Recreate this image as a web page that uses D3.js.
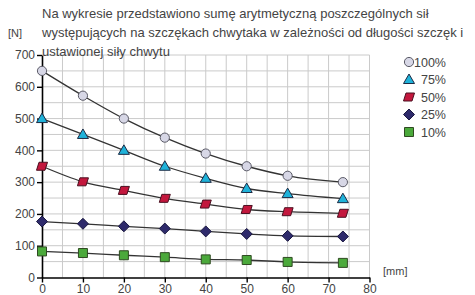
<!DOCTYPE html>
<html>
<head>
<meta charset="utf-8">
<script src="https://cdn.jsdelivr.net/npm/d3@7"></script>
<style>
  body { margin: 0; background: #fff; }
  text { font-family: "Liberation Sans", Arial, sans-serif; fill: #444; }
</style>
</head>
<body>
<script>
var width = 475, height = 295;

// data
var lengths = [0, 10, 20, 30, 40, 50, 60, 73.5];
var force100 = [650, 572, 500, 440, 390, 350, 320, 300];
var force75  = [500, 450, 400, 350, 312, 280, 264, 248];
var force50  = [350, 301, 274, 249, 231, 214, 207, 202];
var force25  = [176, 169, 161, 154, 145, 137, 131, 129];
var force10  = [82, 77, 70, 64, 57, 55, 49, 46];
var seriesNames = ["100%", "75%", "50%", "25%", "10%"];
var xTicks = [0, 10, 20, 30, 40, 50, 60, 70, 80];
var yTicks = [0, 100, 200, 300, 400, 500, 600, 700];
var titleLines = [
  "Na wykresie przedstawiono sumę arytmetyczną poszczególnych sił",
  "występujących na szczękach chwytaka w zależności od długości szczęk i",
  "ustawionej siły chwytu"
];

var allSeries = [force100, force75, force50, force25, force10];
var markerFill   = ["#d7d7e6", "#1fb2d9", "#c3173d", "#2e2a6b", "#4ba93b"];
var markerStroke = ["#5a5a66", "#1c2a44", "#4a1020", "#1a1840", "#2f4a22"];

var x0 = 42, x1 = 369.5, yTop = 55, yBot = 277.5;

var x = d3.scaleLinear().domain([0, 80]).range([x0, x1]);
var y = d3.scaleLinear().domain([0, 700]).range([yBot, yTop]);

var svg = d3.select("body").append("svg")
    .attr("width", width)
    .attr("height", height);

// grid
var grid = svg.append("g");
grid.selectAll("line.v")
    .data(d3.range(5, 81, 5))
    .enter().append("line")
    .attr("x1", d => x(d)).attr("x2", d => x(d))
    .attr("y1", y(700)).attr("y2", y(0))
    .attr("stroke", "#cacaca").attr("stroke-width", 1);
grid.selectAll("line.h")
    .data(d3.range(50, 701, 50))
    .enter().append("line")
    .attr("x1", x(0)).attr("x2", x(80))
    .attr("y1", d => y(d)).attr("y2", d => y(d))
    .attr("stroke", "#cacaca").attr("stroke-width", 1);

// title
svg.append("text")
    .attr("x", 42).attr("y", 18)
    .attr("font-size", 13)
    .selectAll("tspan")
    .data(titleLines)
    .enter().append("tspan")
    .attr("x", 42)
    .attr("y", (d, i) => 18 + i * 19)
    .text(d => d);

// axes
var yAxis = svg.append("g")
    .attr("transform", "translate(" + x0 + ",0)")
    .call(d3.axisLeft(y).tickValues(yTicks).tickSize(5).tickSizeOuter(0).tickPadding(2));
var xAxis = svg.append("g")
    .attr("transform", "translate(0," + yBot + ")")
    .call(d3.axisBottom(x).tickValues(xTicks).tickSize(5).tickSizeOuter(0).tickPadding(2));

[xAxis, yAxis].forEach(function(g) {
  g.select(".domain").attr("stroke", "#000").attr("stroke-width", 1.6);
  g.selectAll(".tick line").attr("stroke", "#000").attr("stroke-width", 1.4);
  g.selectAll(".tick text")
    .attr("font-size", 12)
    .attr("font-family", "Liberation Sans, Arial, sans-serif")
    .attr("fill", "#555");
});

svg.append("text").attr("x", 8).attr("y", 37).attr("font-size", 11).attr("fill", "#555").text("[N]");
svg.append("text").attr("x", 383).attr("y", 275).attr("font-size", 11).attr("fill", "#555").text("[mm]");

// markers
function markerPath(i) {
  if (i === 0) return null;
  if (i === 1) return "M0,-5.5L5.5,4L-5.5,4Z";
  if (i === 2) return "M-3,-4L5.5,-4L3,4L-5.5,4Z";
  if (i === 3) return "M0,-5.5L5.5,0L0,5.5L-5.5,0Z";
  return "M-4.5,-4.5L4.5,-4.5L4.5,4.5L-4.5,4.5Z";
}

function drawMarker(g, i, cx, cy) {
  if (i === 0) {
    g.append("circle").attr("cx", cx).attr("cy", cy).attr("r", 4.6)
      .attr("fill", markerFill[i]).attr("stroke", markerStroke[i]).attr("stroke-width", 1);
  } else {
    g.append("path").attr("d", markerPath(i))
      .attr("transform", "translate(" + cx + "," + cy + ")")
      .attr("fill", markerFill[i]).attr("stroke", markerStroke[i]).attr("stroke-width", 1);
  }
}

var line = d3.line()
    .x((d, i) => x(lengths[i]))
    .y(d => y(d))
    .curve(d3.curveMonotoneX);

allSeries.forEach(function(vals, i) {
  svg.append("path")
    .attr("d", line(vals))
    .attr("fill", "none")
    .attr("stroke", "#333")
    .attr("stroke-width", 1.3);
});

allSeries.forEach(function(vals, i) {
  var g = svg.append("g");
  vals.forEach(function(v, j) {
    drawMarker(g, i, x(lengths[j]), y(v));
  });
});

// legend
var legend = svg.append("g");
seriesNames.forEach(function(name, i) {
  var ly = 62 + i * 17.5;
  drawMarker(legend, i, 409, ly);
  legend.append("text")
    .attr("x", 446).attr("y", ly + 4.5)
    .attr("text-anchor", "end")
    .attr("font-size", 12.5)
    .attr("fill", "#555")
    .text(name);
});
</script>
</body>
</html>
